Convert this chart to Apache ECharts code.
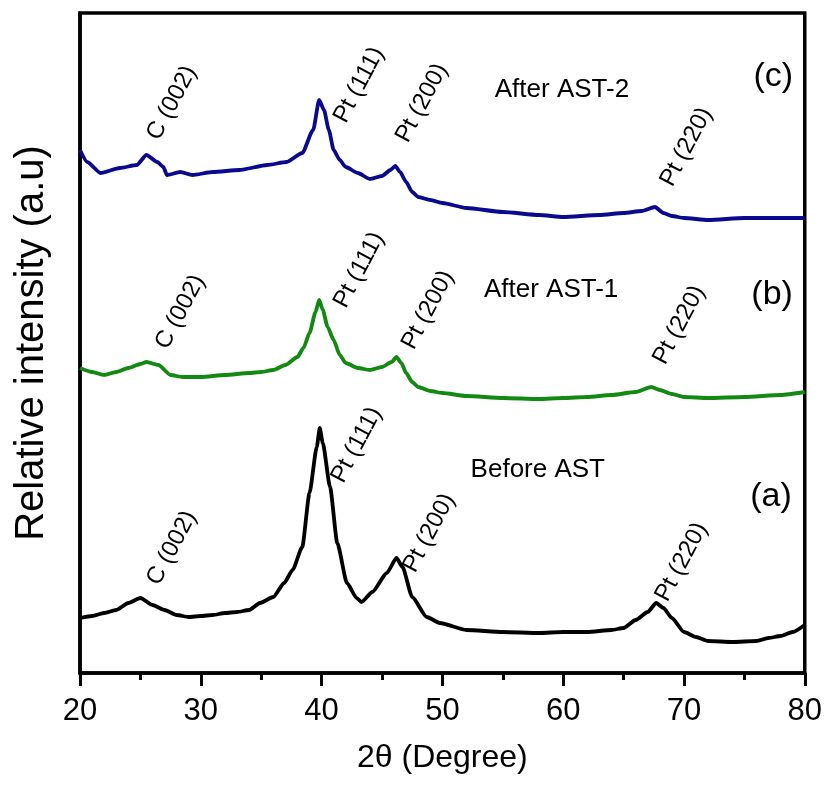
<!DOCTYPE html>
<html><head><meta charset="utf-8">
<script src="https://cdn.jsdelivr.net/npm/echarts@6/dist/echarts.min.js"></script>
<style>html,body{margin:0;padding:0;background:#fff}#c{width:825px;height:789px}</style>
</head><body><div id="c"></div>
<script>
// ---- data (2θ in degrees, relative intensity in arbitrary units with vertical offsets) ----
const xTickValues = [20, 30, 40, 50, 60, 70, 80];
const seriesNames = ['Before AST', 'After AST-1', 'After AST-2'];
const panelTags = ['(a)', '(b)', '(c)'];
const peakNames = ['C (002)', 'Pt (111)', 'Pt (200)', 'Pt (220)'];

const twoThetaA = [20,21,22,23,24,25,26,27,28,29,30,31,32,33,34,34.9,36,36.9,37.6,38.4,39,39.6,39.85,40.1,40.7,41.3,42.1,42.9,43.3,44.2,45.4,46.2,46.7,47.5,48.7,49.8,52,55,58,60,62,64,65,66,67,67.7,68.3,69,70,71,72,74,76,77,78,79,80];
const intensityA = [55,57,60,63,70,75,68,63,58,56,57,58,60,61,63,70,76,90,103,126,180,226,245,230,186,130,90,75,71,81,100,115,106,76,56,50,43,41,40,41,41,43,45,53,61,70,65,55,41,36,32,31,32,35,37,41,48];

const twoThetaB = [20,21,22,23,24,25,25.5,26.5,27.5,28.5,30,32,34,35,36,37,38,38.5,39,39.5,39.8,40.1,40.5,41,41.5,42,43,44,45,45.8,46.2,46.6,47,47.5,48,49,50,52,55,58,60,62,64,66,67.3,68,69,70,72,75,78,80];
const intensityB = [305,301,298,301,305,309,311,308,298,296,296,298,300,301,303,308,316,325,340,361,373,363,346,333,318,310,305,303,306,311,316,310,300,291,286,282,280,277,275,274,275,276,278,281,286,283,279,276,275,276,278,281];

const twoThetaC = [20,20.6,21.7,23.3,24.7,25.5,26.4,26.9,27.2,28.3,29.3,31,33.2,35.5,37.1,38.4,39.3,39.8,40.2,40.6,41,41.5,42,43,44,45,45.7,46.1,46.5,47,47.5,48,49,50,52,55,58,60,63,65,66.5,67.6,68.3,69,70,72,75,78,80];
const intensityC = [523,511,500,505,508,518,511,506,498,501,498,501,503,508,511,520,543,573,563,543,523,513,506,500,494,497,503,507,501,491,481,476,473,470,465,461,458,456,458,460,462,466,460,457,455,453,455,455,455];

// annotation anchors (data coordinates: [2θ, intensity]) for peak labels, in peakNames order
const peakLabelAnchorsA = [[27.6,125],[42.9,228],[48.9,140],[69.8,111]];
const peakLabelAnchorsB = [[28.3,361],[43.1,403],[48.8,363],[69.6,348]];
const peakLabelAnchorsC = [[27.6,570],[43.1,588],[48.3,570],[70.2,526]];
const nameAnchors = [[57.9,203],[59.0,383],[59.9,583]];
const tagAnchors = [[77.2,176],[77.3,378],[77.4,596]];

// ---- chart ----
const colors = ['#000000', '#128a12', '#0a0a8e'];
const xs = [twoThetaA, twoThetaB, twoThetaC];
const ys = [intensityA, intensityB, intensityC];
const peakAnchors = [peakLabelAnchorsA, peakLabelAnchorsB, peakLabelAnchorsC];
const SANS = '"Liberation Sans", Arial, sans-serif';

const series = seriesNames.map((nm, i) => {
  const mp = [];
  peakNames.forEach((pn, k) => {
    mp.push({
      name: pn, coord: peakAnchors[i][k], symbol: 'circle', symbolSize: 0,
      label: { show: true, position: 'inside', formatter: pn, rotate: 62, color: '#000',
        fontSize: 24, fontFamily: SANS, align: 'center', verticalAlign: 'middle' }
    });
  });
  mp.push({
    name: nm, coord: nameAnchors[i], symbol: 'circle', symbolSize: 0,
    label: { show: true, position: 'inside', formatter: nm, color: '#000', fontSize: 26,
      fontFamily: SANS, align: 'center', verticalAlign: 'middle' }
  });
  mp.push({
    name: panelTags[i], coord: tagAnchors[i], symbol: 'circle', symbolSize: 0,
    label: { show: true, position: 'inside', formatter: panelTags[i], color: '#000', fontSize: 34,
      fontFamily: SANS, align: 'center', verticalAlign: 'middle' }
  });
  return {
    name: nm, type: 'line', data: xs[i].map((x, j) => [x, ys[i][j]]),
    showSymbol: false, smooth: 0.2, smoothMonotone: 'x',
    lineStyle: { color: colors[i], width: 3.8 }, itemStyle: { color: colors[i] },
    markPoint: { silent: true, data: mp, animation: false }
  };
});

const chart = echarts.init(document.getElementById('c'), null, { renderer: 'canvas' });
chart.setOption({
  animation: false,
  backgroundColor: '#ffffff',
  grid: { left: 80, right: 19, top: 13, bottom: 116, show: true, borderColor: '#000', borderWidth: 3.5, backgroundColor: 'transparent' },
  xAxis: {
    type: 'value', min: xTickValues[0], max: xTickValues[xTickValues.length - 1], interval: 10,
    name: '2θ (Degree)', nameLocation: 'middle', nameGap: 69,
    nameTextStyle: { fontSize: 32, fontFamily: SANS, color: '#000' },
    axisLine: { show: true, lineStyle: { color: '#000', width: 3.5 } },
    axisTick: { show: true, inside: false, length: 13, lineStyle: { color: '#000', width: 3 } },
    minorTick: { show: true, splitNumber: 2, length: 7, lineStyle: { color: '#000', width: 3 } },
    axisLabel: { fontSize: 31, fontFamily: SANS, color: '#000', margin: 23 },
    splitLine: { show: false }, minorSplitLine: { show: false }
  },
  yAxis: {
    type: 'value', min: 0, max: 660,
    name: 'Relative intensity (a.u)', nameLocation: 'middle', nameGap: 28,
    nameTextStyle: { fontSize: 40, fontFamily: SANS, color: '#000' },
    axisLine: { show: true, lineStyle: { color: '#000', width: 3.5 } },
    axisTick: { show: false }, axisLabel: { show: false }, splitLine: { show: false }
  },
  series: series
});
</script>
</body></html>
